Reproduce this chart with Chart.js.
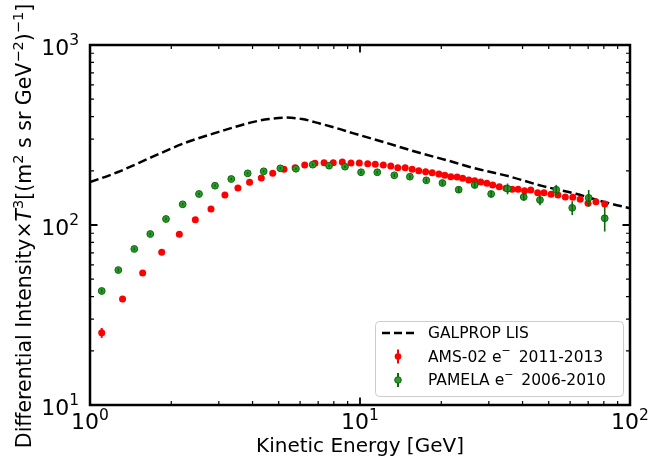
<!DOCTYPE html>
<html>
<head>
<meta charset="utf-8">
<script src="https://cdn.jsdelivr.net/npm/chart.js@4.4.1/dist/chart.umd.min.js"></script>
<style>
html, body { margin: 0; padding: 0; background: #fff; }
canvas { display: block; }
</style>
</head>
<body>
<canvas id="chart" width="652" height="464"></canvas>
<script>
// GALPROP local interstellar spectrum (dashed)
const galpropE = [1, 1.27, 1.7, 2.25, 3.0, 4.0, 4.6, 5.3, 6.1, 7.1, 8.2, 9.4, 12.6, 16.7, 22.1, 25.5, 35.3, 47.2, 63, 83.6, 100];
const galpropFlux = [173, 197, 239, 286, 329, 373, 388, 395, 388, 366, 345, 324, 285, 251, 224, 210, 187, 165, 149, 132, 124];

// AMS-02 electrons 2011-2013
const amsE = [1.105, 1.32, 1.567, 1.843, 2.142, 2.455, 2.806, 3.16, 3.53, 3.90, 4.31, 4.75, 5.23, 5.75, 6.24, 6.81, 7.36, 7.96, 8.60, 9.26, 9.94, 10.68, 11.39, 12.2, 13.0, 13.8, 14.7, 15.6, 16.5, 17.5, 18.5, 19.6, 20.6, 21.7, 22.9, 24.0, 25.3, 26.6, 28.0, 29.5, 31.0, 32.8, 34.7, 36.6, 38.5, 40.7, 42.9, 45.5, 48.0, 51.0, 54.1, 57.6, 61.4, 65.4, 69.9, 74.8, 80.6];
const amsFlux = [25.2, 38.8, 54.1, 70.5, 88.8, 107, 122.7, 146.8, 160.5, 172.7, 182.4, 193.7, 203.9, 208.2, 215.4, 220.1, 221.8, 221.8, 223.9, 220.8, 220.8, 218.9, 217.3, 215.4, 212.6, 208.2, 208.2, 204, 200.4, 197.8, 195.3, 192.1, 188.9, 185.5, 184.8, 181.8, 177.8, 176.2, 173.3, 170.5, 166.8, 163.2, 159.9, 157.8, 157.8, 155.0, 156.4, 151.1, 151.1, 148.1, 146.8, 143.1, 142.8, 138.9, 132.0, 134.7, 130.9];
const amsErr = [1.6, 1.5, 1.4, 1.4, 1.5, 1.6, 1.7, 1.8, 1.9, 2.0, 2.0, 2.1, 2.1, 2.2, 2.2, 2.2, 2.2, 2.2, 2.2, 2.2, 2.2, 2.2, 2.2, 2.2, 2.2, 2.2, 2.2, 2.2, 2.2, 2.2, 2.2, 2.2, 2.2, 2.3, 2.3, 2.3, 2.4, 2.4, 2.5, 2.5, 2.6, 2.6, 2.7, 2.8, 2.9, 3.0, 3.1, 3.2, 3.3, 3.4, 3.6, 3.7, 3.9, 4.1, 4.3, 4.6, 4.9];

// PAMELA electrons 2006-2010
const pamelaE = [1.105, 1.273, 1.459, 1.672, 1.912, 2.204, 2.533, 2.904, 3.336, 3.837, 4.398, 5.07, 5.79, 6.68, 7.68, 8.80, 10.09, 11.59, 13.4, 15.3, 17.6, 20.2, 23.2, 26.6, 30.6, 35.2, 40.4, 46.4, 53.3, 61.1, 70.3, 80.6];
const pamelaFlux = [43.0, 56.2, 73.6, 89.1, 108, 130.3, 148.7, 165.3, 180.1, 193.7, 198.8, 206.5, 205.4, 216.3, 213.6, 210.9, 196.3, 196.3, 188.9, 185.5, 177.1, 171.1, 157.1, 166.8, 148.7, 159.0, 143.1, 137.7, 157.0, 124.5, 141.5, 109.0];
const pamelaErr = [1.0, 1.2, 1.4, 1.6, 1.8, 2.0, 2.2, 2.4, 2.6, 2.8, 3.0, 3.1, 3.2, 3.4, 3.5, 3.6, 3.7, 3.8, 4.0, 4.2, 4.5, 5.0, 5.5, 6.0, 6.0, 11.0, 6.0, 9.0, 10.0, 11.0, 15.0, 17.0];

// axis tick labels: base 10 with exponent
const xMajor = [1, 10, 100];
const xMajorExp = ['0', '1', '2'];
const yMajor = [10, 100, 1000];
const yMajorExp = ['1', '2', '3'];
const minorMult = [2, 3, 4, 5, 6, 7, 8, 9];

const legendLabels = [
    ['GALPROP LIS'],
    ['AMS-02 e', '\u2212', ' 2011-2013'],
    ['PAMELA e', '\u2212', ' 2006-2010']
];

const FONT = '"DejaVu Sans", Verdana, sans-serif';
const RED = '#ff0000';
const GREEN_FILL = '#2f9a2f';
const GREEN_DARK = '#0a6a0a';

function toPoints(xs, ys) {
    return xs.map((v, i) => ({ x: v, y: ys[i] }));
}

// vertical error bars, drawn through the library's y scale
const errorBars = {
    id: 'errorBars',
    beforeDatasetDraw(chart, args) {
        const ds = chart.data.datasets[args.index];
        if (!ds.errors || ds.barsOnTop) return;
        drawBars(chart, args.meta, ds);
    },
    afterDatasetDraw(chart, args) {
        const ds = chart.data.datasets[args.index];
        if (!ds.errors || !ds.barsOnTop) return;
        drawBars(chart, args.meta, ds);
    }
};

function drawBars(chart, meta, ds) {
    const ctx = chart.ctx;
    const y = chart.scales.y;
    const a = chart.chartArea;
    ctx.save();
    ctx.beginPath();
    ctx.rect(a.left, a.top, a.right - a.left, a.bottom - a.top);
    ctx.clip();
    ctx.strokeStyle = ds.barColor;
    ctx.lineWidth = ds.barWidth;
    meta.data.forEach((pt, i) => {
        const v = ds.data[i].y;
        const e = ds.errors[i];
        ctx.beginPath();
        ctx.moveTo(pt.x, y.getPixelForValue(v - e));
        ctx.lineTo(pt.x, y.getPixelForValue(v + e));
        ctx.stroke();
    });
    ctx.restore();
}

function drawPow(ctx, px, baseY, align, exp, bigSize, smallSize, rise) {
    ctx.font = bigSize + 'px ' + FONT;
    const w1 = ctx.measureText('10').width;
    ctx.font = smallSize + 'px ' + FONT;
    const w2 = ctx.measureText(exp).width;
    let left = align === 'center' ? px - (w1 + w2) / 2 : px - (w1 + w2);
    ctx.textAlign = 'left';
    ctx.textBaseline = 'alphabetic';
    ctx.font = bigSize + 'px ' + FONT;
    ctx.fillText('10', left, baseY);
    ctx.font = smallSize + 'px ' + FONT;
    ctx.fillText(exp, left + w1, baseY - rise);
}

// draw a run of text pieces starting at x (baseline 0)
function drawRun(ctx, pieces, x) {
    pieces.forEach(p => {
        ctx.font = p.font;
        ctx.fillText(p.t, x, -(p.rise || 0));
        x += ctx.measureText(p.t).width + (p.gap || 0);
    });
    return x;
}
function runWidth(ctx, pieces) {
    let w = 0;
    pieces.forEach(p => {
        ctx.font = p.font;
        w += ctx.measureText(p.t).width + (p.gap || 0);
    });
    return w;
}

const frame = {
    id: 'frame',
    afterDraw(chart) {
        const { ctx, chartArea: a, scales: { x, y } } = chart;
        ctx.save();
        ctx.strokeStyle = '#000';
        ctx.fillStyle = '#000';

        // ticks pointing inward on all four sides
        const xMinor = [];
        xMajor.slice(0, -1).forEach(d => minorMult.forEach(m => xMinor.push(d * m)));
        const yMinor = [];
        yMajor.slice(0, -1).forEach(d => minorMult.forEach(m => yMinor.push(d * m)));

        function xTicks(vals, len, w) {
            ctx.lineWidth = w;
            vals.forEach(v => {
                const px = x.getPixelForValue(v);
                ctx.beginPath();
                ctx.moveTo(px, a.bottom); ctx.lineTo(px, a.bottom - len);
                ctx.moveTo(px, a.top); ctx.lineTo(px, a.top + len);
                ctx.stroke();
            });
        }
        function yTicks(vals, len, w) {
            ctx.lineWidth = w;
            vals.forEach(v => {
                const py = y.getPixelForValue(v);
                ctx.beginPath();
                ctx.moveTo(a.left, py); ctx.lineTo(a.left + len, py);
                ctx.moveTo(a.right, py); ctx.lineTo(a.right - len, py);
                ctx.stroke();
            });
        }
        xTicks(xMinor, 4, 1.2);
        yTicks(yMinor, 4, 1.2);
        xTicks(xMajor, 7.5, 1.8);
        yTicks(yMajor, 7.5, 1.8);

        ctx.lineWidth = 2.5;
        ctx.strokeRect(a.left, a.top, a.right - a.left, a.bottom - a.top);

        // tick labels
        xMajor.forEach((v, i) => drawPow(ctx, x.getPixelForValue(v), 429, 'center', xMajorExp[i], 22, 15.5, 9));
        yMajor.forEach((v, i) => drawPow(ctx, 79, y.getPixelForValue(v) + 9.5, 'right', yMajorExp[i], 22, 15.5, 9.5));

        // x title
        ctx.font = '20px ' + FONT;
        ctx.textAlign = 'center';
        ctx.textBaseline = 'alphabetic';
        ctx.fillText('Kinetic Energy [GeV]', (a.left + a.right) / 2, 452);

        // y title (rotated, with italic T and superscripts)
        const nf = '20.5px ' + FONT;
        const sf = '14.5px ' + FONT;
        const yTitle = [
            { t: 'Differential Intensity', font: nf },
            { t: '\u00d7', font: nf },
            { t: 'T', font: 'oblique 20.5px ' + FONT },
            { t: '3', font: sf, rise: 8 },
            { t: '[(m', font: nf },
            { t: '2', font: sf, rise: 8 },
            { t: ' s sr GeV', font: nf },
            { t: '\u22122', font: sf, rise: 8 },
            { t: ')', font: nf },
            { t: '\u22121', font: sf, rise: 8 },
            { t: ']', font: nf }
        ];
        ctx.textAlign = 'left';
        const tw = runWidth(ctx, yTitle);
        ctx.save();
        ctx.translate(31, (a.top + a.bottom) / 2 + 1);
        ctx.rotate(-Math.PI / 2);
        drawRun(ctx, yTitle, -tw / 2);
        ctx.restore();

        // legend box
        const bx = 375.5, by = 321.5, bw = 248, bh = 75, r = 4;
        ctx.beginPath();
        ctx.moveTo(bx + r, by);
        ctx.arcTo(bx + bw, by, bx + bw, by + bh, r);
        ctx.arcTo(bx + bw, by + bh, bx, by + bh, r);
        ctx.arcTo(bx, by + bh, bx, by, r);
        ctx.arcTo(bx, by, bx + bw, by, r);
        ctx.closePath();
        ctx.fillStyle = 'rgba(255,255,255,0.8)';
        ctx.fill();
        ctx.strokeStyle = '#cccccc';
        ctx.lineWidth = 1;
        ctx.stroke();

        const rows = [333, 356.5, 380];
        // dashed handle
        ctx.strokeStyle = '#000';
        ctx.lineWidth = 2.5;
        ctx.setLineDash([8, 4]);
        ctx.beginPath();
        ctx.moveTo(382, rows[0]); ctx.lineTo(414, rows[0]);
        ctx.stroke();
        ctx.setLineDash([]);
        // marker handles
        [[RED, RED, RED], [GREEN_FILL, GREEN_DARK, GREEN_DARK]].forEach((c, i) => {
            const cy = rows[i + 1];
            ctx.strokeStyle = c[2];
            ctx.lineWidth = 2;
            ctx.beginPath();
            ctx.moveTo(398, cy - 7); ctx.lineTo(398, cy + 7);
            ctx.stroke();
            ctx.beginPath();
            ctx.arc(398, cy, 3.3, 0, Math.PI * 2);
            ctx.fillStyle = c[0];
            ctx.fill();
            if (i === 1) {
                ctx.lineWidth = 1;
                ctx.strokeStyle = c[1];
                ctx.stroke();
            }
        });
        // legend text
        ctx.fillStyle = '#000';
        ctx.textBaseline = 'middle';
        legendLabels.forEach((parts, i) => {
            const pieces = parts.map((t, k) => k === 1
                ? { t: t, font: '11px ' + FONT, rise: 6, gap: 3 }
                : { t: t, font: '15.5px ' + FONT });
            ctx.save();
            ctx.translate(0, rows[i] + 1);
            drawRun(ctx, pieces, 428);
            ctx.restore();
        });

        ctx.restore();
    }
};

new Chart(document.getElementById('chart'), {
    type: 'scatter',
    data: {
        datasets: [
            {
                label: 'PAMELA e\u207b 2006-2010',
                data: toPoints(pamelaE, pamelaFlux),
                errors: pamelaErr,
                barColor: GREEN_DARK,
                barWidth: 1.6,
                barsOnTop: true,
                backgroundColor: GREEN_FILL,
                borderColor: GREEN_DARK,
                borderWidth: 1,
                pointRadius: 3.4,
                order: 1
            },
            {
                label: 'AMS-02 e\u207b 2011-2013',
                data: toPoints(amsE, amsFlux),
                errors: amsErr,
                barColor: RED,
                barWidth: 2,
                barsOnTop: false,
                backgroundColor: RED,
                borderColor: RED,
                borderWidth: 0,
                pointRadius: 3.5,
                order: 2
            },
            {
                type: 'line',
                label: 'GALPROP LIS',
                data: toPoints(galpropE, galpropFlux),
                borderColor: '#000',
                borderWidth: 2.5,
                borderDash: [9, 4],
                pointRadius: 0,
                fill: false,
                cubicInterpolationMode: 'monotone',
                order: 3
            }
        ]
    },
    options: {
        responsive: false,
        animation: false,
        devicePixelRatio: 1,
        layout: { padding: { left: 90, right: 22, top: 45, bottom: 59 } },
        plugins: {
            legend: { display: false },
            tooltip: { enabled: false }
        },
        scales: {
            x: { type: 'logarithmic', min: 1, max: 100, display: false },
            y: { type: 'logarithmic', min: 10, max: 1000, display: false }
        }
    },
    plugins: [errorBars, frame]
});
</script>
</body>
</html>
